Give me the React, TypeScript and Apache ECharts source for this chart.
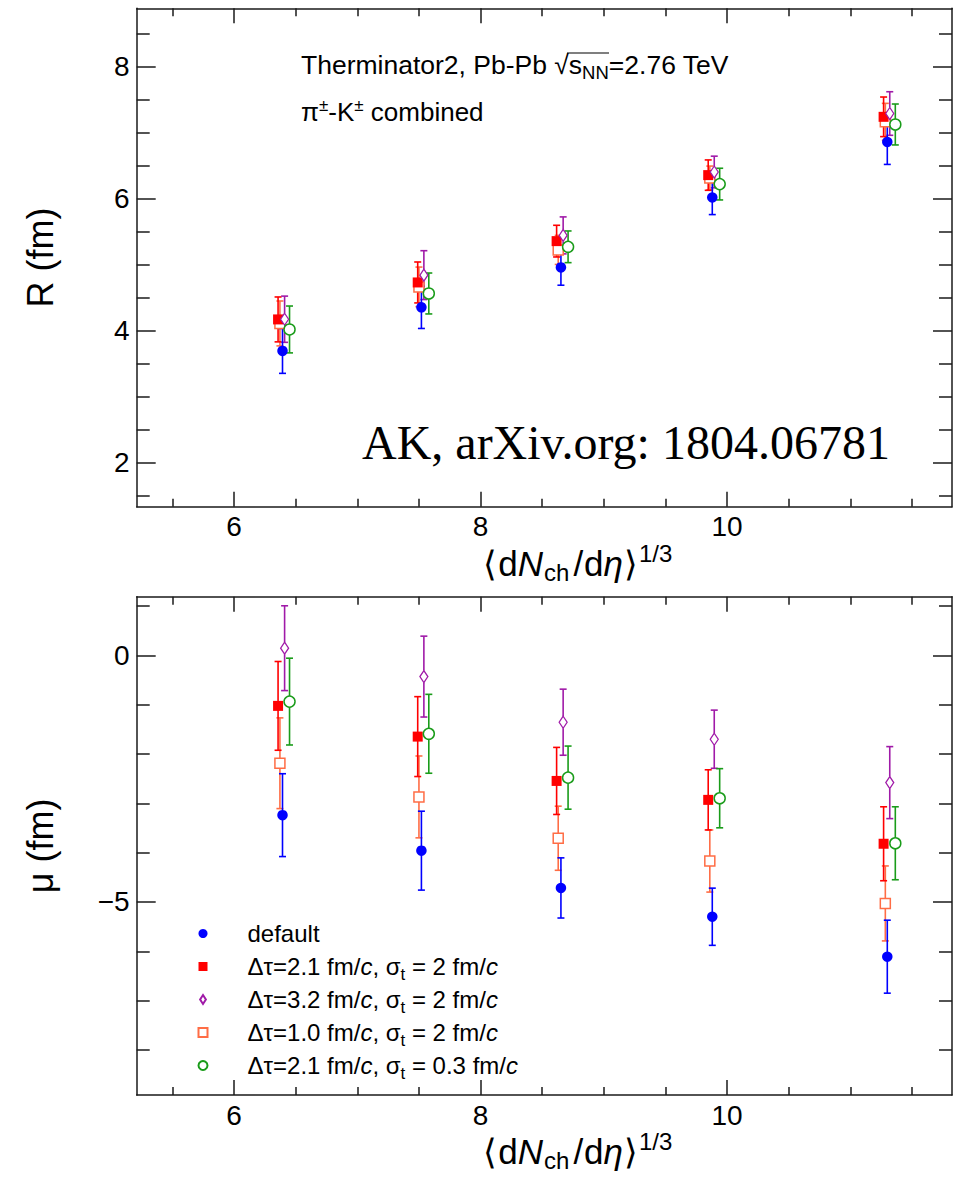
import React, { useEffect, useRef } from 'react';
import * as echarts from 'echarts';

// ---------------- data ----------------
const seriesNames = [
  'default',
  'Δτ=2.1 fm/c, σt = 2 fm/c',
  'Δτ=3.2 fm/c, σt = 2 fm/c',
  'Δτ=1.0 fm/c, σt = 2 fm/c',
  'Δτ=2.1 fm/c, σt = 0.3 fm/c',
];

// x positions (<dNch/deta>^(1/3)) of each series
const xDefault = [6.393, 7.52, 8.652, 9.88, 11.3];
const xDt21s2 = [6.357, 7.49, 8.617, 9.847, 11.27];
const xDt32s2 = [6.41, 7.54, 8.67, 9.896, 11.32];
const xDt10s2 = [6.372, 7.5, 8.63, 9.86, 11.284];
const xDt21s03 = [6.45, 7.58, 8.71, 9.94, 11.365];

// R (fm) and its errors
const rDefault = [3.69, 4.35, 4.955, 6.015, 6.855];
const rDefaultErr = [0.34, 0.32, 0.27, 0.26, 0.34];
const rDt21s2 = [4.167, 4.727, 5.353, 6.353, 7.236];
const rDt21s2Err = [0.34, 0.31, 0.24, 0.23, 0.3];
const rDt32s2 = [4.17, 4.838, 5.44, 6.4, 7.286];
const rDt32s2Err = [0.35, 0.37, 0.28, 0.24, 0.33];
const rDt10s2 = [4.106, 4.66, 5.22, 6.31, 7.16];
const rDt10s2Err = [0.34, 0.3, 0.22, 0.18, 0.28];
const rDt21s03 = [4.015, 4.56, 5.267, 6.217, 7.12];
const rDt21s03Err = [0.355, 0.31, 0.24, 0.24, 0.31];

// mu (fm) and its errors
const muDefault = [-3.24, -3.96, -4.716, -5.3, -6.11];
const muDefaultErr = [0.84, 0.8, 0.61, 0.58, 0.74];
const muDt21s2 = [-1.024, -1.647, -2.546, -2.93, -3.82];
const muDt21s2Err = [0.9, 0.81, 0.68, 0.61, 0.75];
const muDt32s2 = [0.146, -0.43, -1.355, -1.7, -2.58];
const muDt32s2Err = [0.86, 0.82, 0.67, 0.59, 0.73];
const muDt10s2 = [-2.187, -2.87, -3.708, -4.17, -5.03];
const muDt10s2Err = [0.92, 0.83, 0.65, 0.63, 0.76];
const muDt21s03 = [-0.937, -1.59, -2.479, -2.897, -3.81];
const muDt21s03Err = [0.88, 0.8, 0.64, 0.6, 0.74];

// axes ticks
const xMajor = [6, 8, 10];
const xMinor = [5.5, 6.5, 7, 7.5, 8.5, 9, 9.5, 10.5, 11, 11.5];
const rMajor = [2, 4, 6, 8];
const rMinor = [1.5, 2.5, 3, 3.5, 4.5, 5, 5.5, 6.5, 7, 7.5, 8.5];
const muMajor = [-5, 0];
const muMinor = [-8, -7, -6, -4, -3, -2, -1, 1];

// ---------------- styling ----------------
const FONT = '"Liberation Sans", Arial, Helvetica, sans-serif';
const SERIF = '"Liberation Serif", "Times New Roman", serif';
const AX = '#1a1a1a';

const X_MIN = 5.21;
const X_MAX = 11.825;
const R_MIN = 1.33;
const R_MAX = 8.88;
const MU_MIN = -8.915;
const MU_MAX = 1.19;

type Style = {
  color: string;
  symbol: string;
  size: number | number[];
  fill: string;
  border: number;
  gap: number;
};
const styles: Style[] = [
  { color: '#0000ff', symbol: 'circle', size: 10.5, fill: '#0000ff', border: 0, gap: 0 },
  { color: '#ff0000', symbol: 'rect', size: 10, fill: '#ff0000', border: 0, gap: 0 },
  { color: '#a01aa8', symbol: 'diamond', size: [8, 12], fill: '#ffffff', border: 1.3, gap: 6 },
  { color: '#ff6d45', symbol: 'rect', size: 10, fill: '#ffffff', border: 1.5, gap: 5 },
  { color: '#1a9c1a', symbol: 'circle', size: 11, fill: '#ffffff', border: 1.5, gap: 5.5 },
];
const drawOrder = [3, 1, 2, 4, 0];

const xs = [xDefault, xDt21s2, xDt32s2, xDt10s2, xDt21s03];
const rs = [rDefault, rDt21s2, rDt32s2, rDt10s2, rDt21s03];
const rErrs = [rDefaultErr, rDt21s2Err, rDt32s2Err, rDt10s2Err, rDt21s03Err];
const mus = [muDefault, muDt21s2, muDt32s2, muDt10s2, muDt21s03];
const muErrs = [muDefaultErr, muDt21s2Err, muDt32s2Err, muDt10s2Err, muDt21s03Err];

function errSeries(idx: number, x: number[], y: number[], e: number[], axisIdx: number) {
  const st = styles[idx];
  return {
    type: 'custom',
    name: seriesNames[idx] + ' (err)',
    xAxisIndex: axisIdx,
    yAxisIndex: axisIdx,
    silent: true,
    z: 2,
    dimensions: ['x', 'y', 'e'],
    encode: { x: 0, y: 1 },
    data: x.map((v, i) => [v, y[i], e[i]]),
    renderItem: (_params: any, api: any) => {
      const xv = api.value(0);
      const yv = api.value(1);
      const ev = api.value(2);
      const c = api.coord([xv, yv]);
      const lo = api.coord([xv, yv - ev]);
      const hi = api.coord([xv, yv + ev]);
      const cap = 3.5;
      const ls = { stroke: st.color, lineWidth: 1.6 };
      const children: any[] = [
        { type: 'line', shape: { x1: c[0], y1: c[1] + st.gap, x2: lo[0], y2: lo[1] }, style: ls },
        { type: 'line', shape: { x1: c[0], y1: c[1] - st.gap, x2: hi[0], y2: hi[1] }, style: ls },
        { type: 'line', shape: { x1: lo[0] - cap, y1: lo[1], x2: lo[0] + cap, y2: lo[1] }, style: ls },
        { type: 'line', shape: { x1: hi[0] - cap, y1: hi[1], x2: hi[0] + cap, y2: hi[1] }, style: ls },
      ];
      return { type: 'group', children };
    },
  };
}

function pointSeries(idx: number, x: number[], y: number[], axisIdx: number) {
  const st = styles[idx];
  return {
    type: 'scatter',
    name: seriesNames[idx],
    xAxisIndex: axisIdx,
    yAxisIndex: axisIdx,
    z: 3,
    symbol: st.symbol,
    symbolSize: st.size,
    itemStyle: {
      color: st.fill,
      borderColor: st.color,
      borderWidth: st.border,
      opacity: 1,
    },
    emphasis: { disabled: true },
    data: x.map((v, i) => [v, y[i]]),
  };
}

const lineStyle = { color: AX, width: 1.5 };

const xTitle = '{b|⟨}d{i|N}{sub|ch}{s|/}d{i|η}{b|⟩}{sup|1/3}';
const TF = 35; // axis title font size

function xAxesFor(grid: number) {
  const base = {
    type: 'value',
    gridIndex: grid,
    min: X_MIN,
    max: X_MAX,
    splitLine: { show: false },
  };
  return [
    {
      ...base,
      position: 'bottom',
      axisLine: { show: true, onZero: false, lineStyle },
      axisTick: { show: true, inside: true, length: 15, customValues: xMajor, lineStyle },
      axisLabel: {
        show: true,
        customValues: xMajor,
        fontSize: 28,
        fontFamily: FONT,
        color: '#000',
        margin: 6,
      },
      name: xTitle,
      nameLocation: 'middle',
      nameGap: 28,
      nameTextStyle: {
        fontSize: TF,
        fontFamily: FONT,
        color: '#000',
        lineHeight: TF,
        padding: [0, 0, 0, 66],
        rich: {
          i: { fontSize: TF, fontFamily: FONT, fontStyle: 'italic', color: '#000', lineHeight: TF },
          b: { fontSize: TF, fontFamily: FONT, color: '#000', lineHeight: TF, padding: [0, 1, 0, 1] },
          s: { fontSize: TF, fontFamily: FONT, color: '#000', lineHeight: TF, padding: [0, 1, 0, 3] },
          sub: { fontSize: 24, fontFamily: FONT, color: '#000', lineHeight: TF, padding: [18, 1, 0, 1] },
          sup: { fontSize: 24, fontFamily: FONT, color: '#000', lineHeight: TF, padding: [0, 0, 20, 0] },
        },
      },
    },
    {
      ...base,
      position: 'bottom',
      axisLine: { show: false, onZero: false },
      axisTick: { show: true, inside: true, length: 8, customValues: xMinor, lineStyle },
      axisLabel: { show: false },
    },
    {
      ...base,
      position: 'top',
      axisLine: { show: true, onZero: false, lineStyle },
      axisTick: { show: true, inside: true, length: 15, customValues: xMajor, lineStyle },
      axisLabel: { show: false },
    },
    {
      ...base,
      position: 'top',
      axisLine: { show: false, onZero: false },
      axisTick: { show: true, inside: true, length: 8, customValues: xMinor, lineStyle },
      axisLabel: { show: false },
    },
  ];
}

function yAxesFor(grid: number, min: number, max: number, major: number[], minor: number[], name: string) {
  const base = {
    type: 'value',
    gridIndex: grid,
    min,
    max,
    splitLine: { show: false },
  };
  return [
    {
      ...base,
      position: 'left',
      axisLine: { show: true, onZero: false, lineStyle },
      axisTick: { show: true, inside: true, length: 19, customValues: major, lineStyle },
      axisLabel: {
        show: true,
        customValues: major,
        fontSize: 28,
        fontFamily: FONT,
        color: '#000',
        margin: 7,
        formatter: (v: number) => (v < 0 ? '−' + Math.abs(v) : String(v)),
      },
      name,
      nameLocation: 'middle',
      nameRotate: 90,
      nameGap: 78,
      nameTextStyle: { fontSize: 36, fontFamily: FONT, color: '#000', lineHeight: 36 },
    },
    {
      ...base,
      position: 'left',
      axisLine: { show: false, onZero: false },
      axisTick: { show: true, inside: true, length: 13, customValues: minor, lineStyle },
      axisLabel: { show: false },
    },
    {
      ...base,
      position: 'right',
      axisLine: { show: true, onZero: false, lineStyle },
      axisTick: { show: true, inside: true, length: 19, customValues: major, lineStyle },
      axisLabel: { show: false },
    },
    {
      ...base,
      position: 'right',
      axisLine: { show: false, onZero: false },
      axisTick: { show: true, inside: true, length: 13, customValues: minor, lineStyle },
      axisLabel: { show: false },
    },
  ];
}

function buildOption() {
  const series: any[] = [];
  // error bars
  drawOrder.forEach((i) => {
    series.push(errSeries(i, xs[i], rs[i], rErrs[i], 0));
    series.push(errSeries(i, xs[i], mus[i], muErrs[i], 4));
  });
  // markers
  drawOrder.forEach((i) => {
    series.push(pointSeries(i, xs[i], rs[i], 0));
    series.push(pointSeries(i, xs[i], mus[i], 4));
  });

  const legendIcons = [
    'circle',
    'rect',
    'path://M0,-5L3.2,0L0,5L-3.2,0Z',
    'rect',
    'circle',
  ];

  return {
    animation: false,
    backgroundColor: '#ffffff',
    grid: [
      { left: 136.7, top: 8.3, width: 815.3, height: 498.4, outerBoundsMode: 'none', containLabel: false },
      { left: 136.7, top: 596.7, width: 815.3, height: 498.3, outerBoundsMode: 'none', containLabel: false },
    ],
    xAxis: [...xAxesFor(0), ...xAxesFor(1)],
    yAxis: [
      ...yAxesFor(0, R_MIN, R_MAX, rMajor, rMinor, 'R (fm)'),
      ...yAxesFor(1, MU_MIN, MU_MAX, muMajor, muMinor, 'μ (fm)'),
    ],
    legend: {
      orient: 'vertical',
      left: 197.5,
      top: 917,
      padding: 0,
      itemWidth: 9,
      itemHeight: 9,
      itemGap: 0,
      selectedMode: false,
      data: seriesNames.map((n, i) => ({ name: n, icon: legendIcons[i] })),
      formatter: (name: string) =>
        name === 'default'
          ? 'default{sub| }'
          : name.replace(/\/c/g, '/{i|c}').replace('σt', 'σ{sub|t}'),
      textStyle: {
        fontSize: 24,
        fontFamily: FONT,
        color: '#000',
        lineHeight: 24,
        padding: [0, 0, 0, 35],
        rich: {
          i: { fontSize: 24, fontFamily: FONT, fontStyle: 'italic', color: '#000', lineHeight: 24 },
          sub: { fontSize: 17, fontFamily: FONT, color: '#000', lineHeight: 24, padding: [16, 0, 0, 0] },
        },
      },
    },
    graphic: [
      {
        type: 'text',
        x: 301,
        y: 65,
        silent: true,
        style: {
          text: 'Therminator2, Pb-Pb √s{sub|NN}=2.76 TeV',
          fontSize: 26.5,
          fontFamily: FONT,
          fill: '#000',
          align: 'left',
          verticalAlign: 'middle',
          lineHeight: 26,
          rich: {
            sub: { fontSize: 18.5, fontFamily: FONT, fill: '#000', lineHeight: 26, padding: [14, 0, 0, 0] },
          },
        },
      },
      {
        type: 'line',
        silent: true,
        shape: { x1: 567, y1: 53, x2: 609, y2: 53 },
        style: { stroke: '#000', lineWidth: 1.2 },
      },
      {
        type: 'text',
        x: 301,
        y: 112,
        silent: true,
        style: {
          text: 'π{sup|±}-K{sup|±} combined',
          fontSize: 26,
          fontFamily: FONT,
          fill: '#000',
          align: 'left',
          verticalAlign: 'middle',
          lineHeight: 26,
          rich: {
            sup: { fontSize: 17, fontFamily: FONT, fill: '#000', lineHeight: 26, padding: [0, 0, 14, 0] },
          },
        },
      },
      {
        type: 'text',
        x: 362,
        y: 442,
        silent: true,
        style: {
          text: 'AK, arXiv.org: 1804.06781',
          fontSize: 48,
          fontFamily: SERIF,
          fill: '#000',
          align: 'left',
          verticalAlign: 'middle',
        },
      },
    ],
    series,
  };
}

export default function App() {
  const ref = useRef<HTMLDivElement>(null);
  useEffect(() => {
    if (!ref.current) return;
    const chart = echarts.init(ref.current, null, { renderer: 'svg' });
    chart.setOption(buildOption() as any);
    return () => chart.dispose();
  }, []);
  return (
    <div
      ref={ref}
      style={{ position: 'absolute', left: 0, top: 0, width: 957, height: 1178, background: '#fff' }}
    />
  );
}
